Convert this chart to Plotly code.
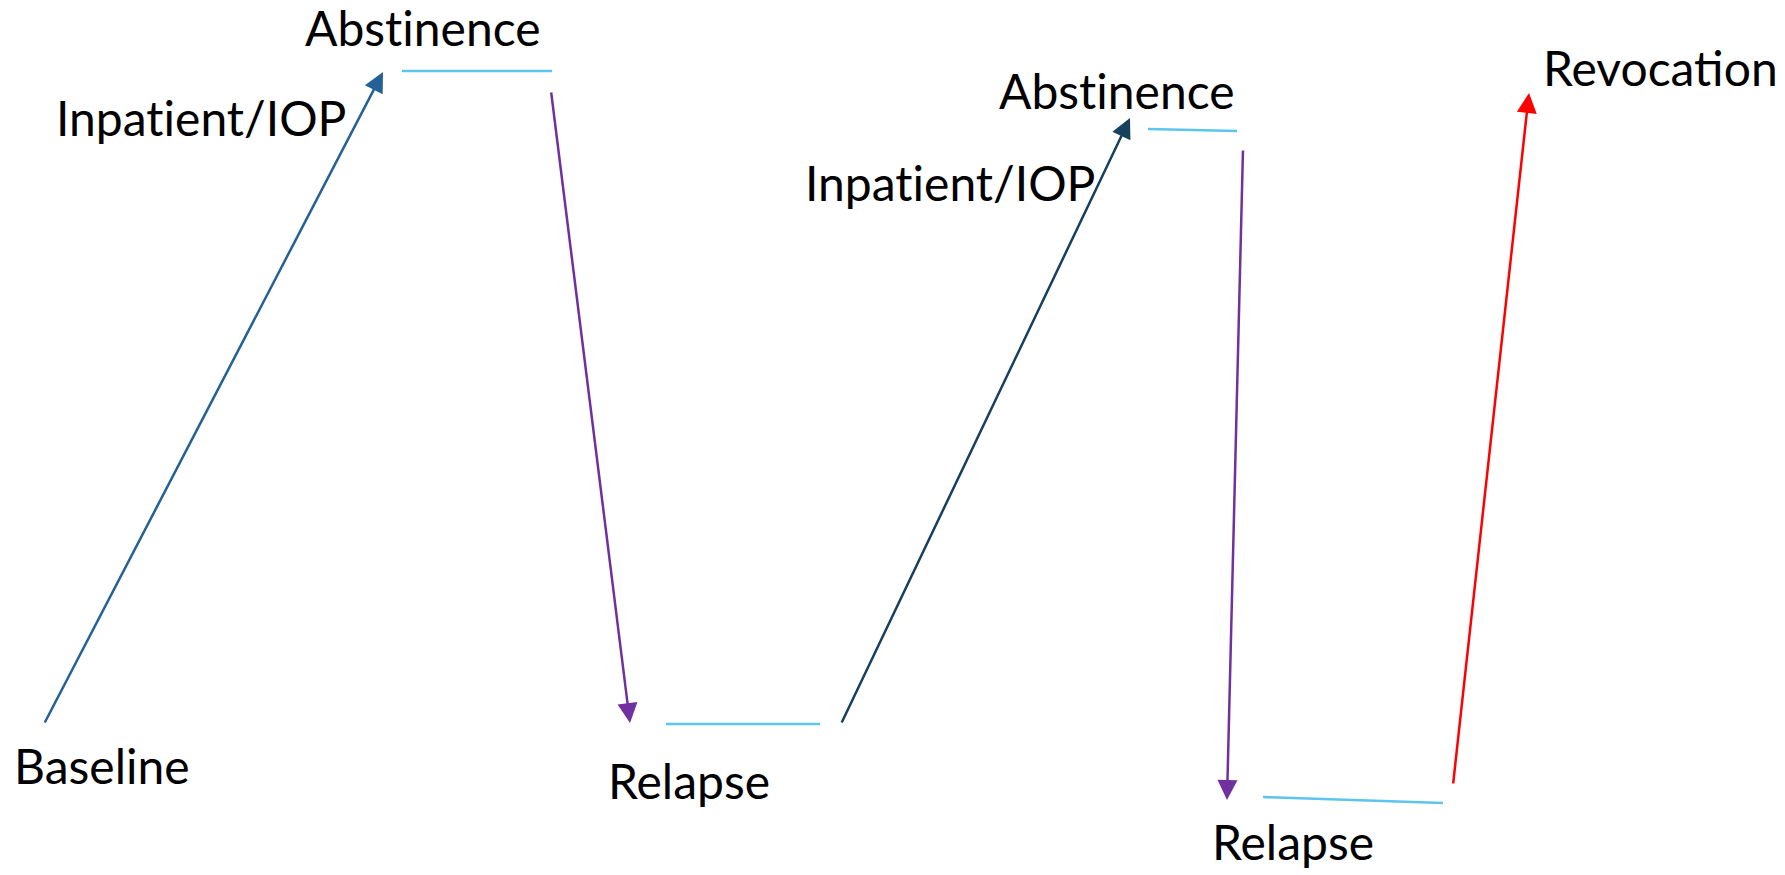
import plotly.graph_objects as go

# Diagram data (canvas units: x to the right, y downward)
ZW = "\u200c"  # prevents the "ti" ligature of Lato
stage_labels = ["Baseline", f"Inpat{ZW}ient/IOP", f"Abst{ZW}inence", "Relapse",
                f"Inpat{ZW}ient/IOP", f"Abst{ZW}inence", "Relapse", "Revocation"]
label_x = [102, 201, 423, 689, 950, 1117, 1293, 1660]
label_y = [765, 117, 27, 780, 182, 90, 841, 67]

# arrows: start -> tip
arrow_x0 = [44, 551, 841, 1243, 1453]
arrow_y0 = [724, 91, 724, 149, 785]
arrow_x1 = [383, 630, 1130, 1227, 1529]
arrow_y1 = [72, 723, 118, 800, 93]
arrow_colors = ["#236196", "#7030A0", "#17405F", "#7030A0", "#FF0000"]

# plateau segments
plat_x0 = [402, 666, 1148, 1263]
plat_y0 = [71, 724, 129, 797]
plat_x1 = [552, 820, 1237, 1443]
plat_y1 = [71, 724, 131, 803]
plat_color = "#5BC5EC"

W, H = 1785, 875
fig = go.Figure()

for x0, y0, x1, y1 in zip(plat_x0, plat_y0, plat_x1, plat_y1):
    fig.add_trace(go.Scatter(x=[x0, x1], y=[y0, y1], mode="lines",
                             line=dict(color=plat_color, width=2.7),
                             hoverinfo="skip", showlegend=False))

for x0, y0, x1, y1, c in zip(arrow_x0, arrow_y0, arrow_x1, arrow_y1, arrow_colors):
    fig.add_annotation(x=x1, y=y1, ax=x0, ay=y0, xref="x", yref="y",
                       axref="x", ayref="y", text="", showarrow=True,
                       arrowhead=2, arrowsize=1.6, arrowwidth=2.5,
                       arrowcolor=c, standoff=0, startstandoff=0)

for t, x, y in zip(stage_labels, label_x, label_y):
    fig.add_annotation(x=x, y=y, xref="x", yref="y", text=t, showarrow=False,
                       xanchor="center", yanchor="middle",
                       font=dict(family="Lato", size=48, color="black"))

fig.update_layout(width=W, height=H, margin=dict(l=0, r=0, t=0, b=0),
                  plot_bgcolor="white", paper_bgcolor="white",
                  xaxis=dict(range=[0, W], visible=False, fixedrange=True),
                  yaxis=dict(range=[H, 0], visible=False, fixedrange=True))

fig.write_html("out.html", config={"displayModeBar": False},
               post_script="document.body.style.margin='0';document.body.style.overflow='hidden';")
